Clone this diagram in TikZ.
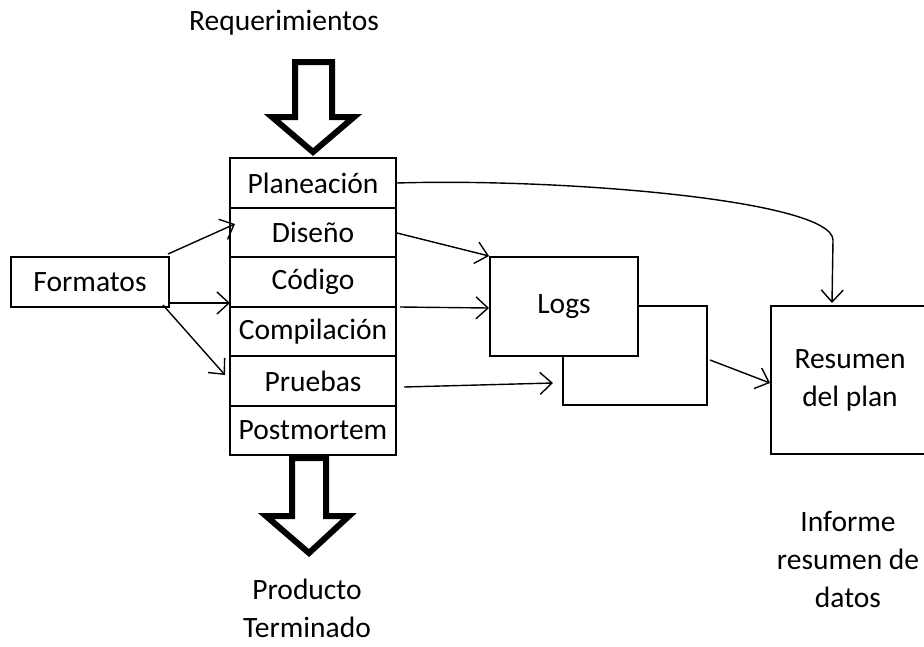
\documentclass[tikz,border=0pt]{standalone}
\usepackage{fontspec}
\setmainfont{Carlito}
\usetikzlibrary{arrows.meta}
\begin{document}
\begin{tikzpicture}[x=1pt,y=-1pt,
  font=\fontsize{29.5}{38}\selectfont,
  box/.style={draw,line width=1.8pt,fill=white,inner sep=0pt},
  row/.style={box,minimum width=166pt,minimum height=49.5pt},
  flow/.style={line width=1.4pt,-{Straight Barb[length=12pt,width=22pt,line width=1.4pt]}},
  bigarrow/.style={draw,line width=6pt,fill=white,line join=miter,miter limit=10},
  lbl/.style={align=center,inner sep=0pt}]
\clip (0,0) rectangle (924,646);
\useasboundingbox (0,0) rectangle (924,646);

% process stack
\node[row] (plan) at (313,183)   {Planeación};
\node[row] (dis)  at (313,232.5) {Diseño};
\node[row] (cod)  at (313,282)   {Código};
\node[row] (comp) at (313,331.5) {Compilación};
\node[row] (prue) at (313,381)   {Pruebas};
\node[row] (post) at (313,430.5) {Postmortem};

% hollow input and output arrows
\node[lbl] (req) at (284,23) {Requerimientos};
\draw[bigarrow] (295,62) -- (332,62) -- (332,117) -- (354,117) -- (313,152)
  -- (272,117) -- (295,117) -- cycle;
\draw[bigarrow] (292,458) -- (326,458) -- (326,516) -- (349,516) -- (309,553)
  -- (266,516) -- (292,516) -- cycle;
\node[lbl] (prod) at (307,608) {Producto\\Terminado};

% forms
\node[box,minimum width=158pt,minimum height=50pt] (form) at (90,282) {Formatos};
\coordinate (f1) at (168,254);
\coordinate (f2) at (169,303);
\coordinate (f3) at (163,305);
\coordinate (d1) at (235,224);
\coordinate (d2) at (230,303);
\coordinate (d3) at (225,375);
\draw[flow] (f1) -- (d1);
\draw[flow] (f2) -- (d2);
\draw[flow] (f3) -- (d3);

% logs
\draw[box] (563,306) rectangle (707,405);
\node[box,minimum width=148pt,minimum height=99pt] (logs) at (564,306.5) {Logs};
\coordinate (l1) at (489,256);
\coordinate (l2) at (489,308);
\coordinate (l3) at (553,383);
\draw[flow] (397,233) -- (l1);
\draw[flow] (400,307) -- (l2);
\draw[flow] (404,387) -- (l3);

% plan summary
\node[box,minimum width=158pt,minimum height=148pt,align=center] (res) at (850,380)
  {Resumen\\del plan};
\coordinate (lb) at (710,360);
\coordinate (ra) at (770,383);
\draw[flow] (lb) -- (ra);
\coordinate (rt) at (832,303);
\draw[flow] (plan.east) .. controls (560,178) and (832,200) .. (833,240) -- (rt);

\node[lbl] (inf) at (848,559) {Informe\\resumen de\\datos};
\end{tikzpicture}
\end{document}
